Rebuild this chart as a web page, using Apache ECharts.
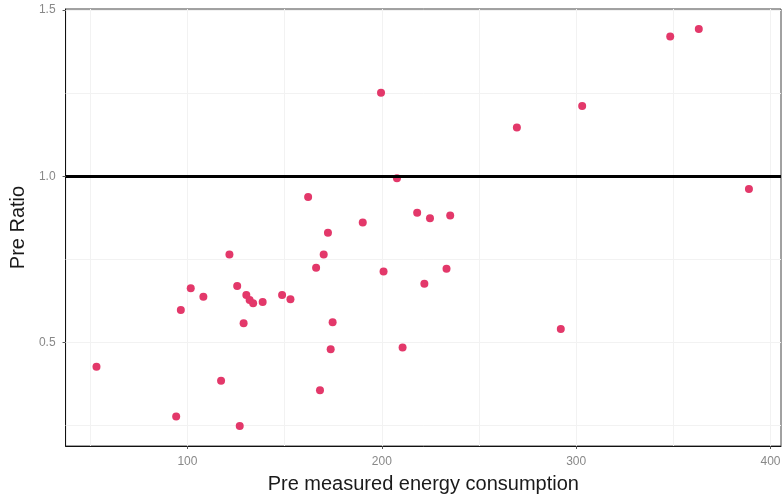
<!DOCTYPE html>
<html>
<head>
<meta charset="utf-8">
<script src="https://cdn.jsdelivr.net/npm/echarts@6/dist/echarts.min.js"></script>
<style>html,body{margin:0;padding:0;background:#fff;}#chart{width:784px;height:499px;}</style>
</head>
<body>
<div id="chart"></div>
<script>
const energy = [53.2, 94.2, 96.6, 101.7, 108.2, 117.3, 121.6, 125.6, 126.9, 128.9, 130.3, 132.0, 133.8, 138.7, 148.7, 153.0, 162.1, 166.2, 168.2, 170.1, 172.3, 173.7, 174.7, 190.2, 199.6, 200.9, 207.8, 210.7, 218.2, 221.9, 224.8, 233.3, 235.2, 269.5, 292.1, 303.1, 348.4, 363.1, 388.9];
const ratio = [0.427, 0.278, 0.598, 0.663, 0.638, 0.385, 0.765, 0.670, 0.249, 0.558, 0.643, 0.628, 0.618, 0.622, 0.643, 0.630, 0.938, 0.725, 0.357, 0.765, 0.830, 0.480, 0.561, 0.861, 1.251, 0.714, 0.994, 0.485, 0.890, 0.677, 0.874, 0.722, 0.882, 1.147, 0.541, 1.211, 1.420, 1.443, 0.962];
const xTicks = [100, 200, 300, 400];
const yTicks = [0.5, 1.0, 1.5];
const xMinorGrid = [50, 150, 250, 350];
const yMinorGrid = [0.25, 0.75, 1.25];
const refLine = 1.0;

const points = energy.map((e, i) => [e, ratio[i]]);
const gridColor = '#f2f2f2';
const gridLines = [];
xTicks.concat(xMinorGrid).forEach(v => gridLines.push({xAxis: v}));
yTicks.concat(yMinorGrid).forEach(v => gridLines.push({yAxis: v}));

const chart = echarts.init(document.getElementById('chart'));
chart.setOption({
  animation: false,
  backgroundColor: '#ffffff',
  grid: {left: 65, right: 3, top: 9, bottom: 52, show: true, borderColor: '#444', borderWidth: 1, backgroundColor: 'transparent'},
  xAxis: {
    type: 'value', min: 37.3, max: 405.4,
    name: 'Pre measured energy consumption', nameLocation: 'middle', nameGap: 28,
    nameTextStyle: {fontSize: 20, color: '#1a1a1a', fontFamily: 'Liberation Sans'},
    axisLine: {show: true, onZero: false, lineStyle: {color: '#111', width: 1}},
    axisTick: {show: true, length: 3, customValues: xTicks, lineStyle: {color: '#555'}},
    axisLabel: {customValues: xTicks, color: '#888', fontSize: 12, margin: 10, fontFamily: 'Liberation Sans'},
    splitLine: {show: false}
  },
  yAxis: {
    type: 'value', min: 0.189, max: 1.503,
    name: 'Pre Ratio', nameLocation: 'middle', nameGap: 35, nameRotate: 90,
    nameTextStyle: {fontSize: 20, color: '#1a1a1a', fontFamily: 'Liberation Sans'},
    axisLine: {show: true, onZero: false, lineStyle: {color: '#111', width: 1}},
    axisTick: {show: true, length: 3, customValues: yTicks, lineStyle: {color: '#555'}},
    axisLabel: {customValues: yTicks, color: '#888', fontSize: 12, margin: 10, fontFamily: 'Liberation Sans',
      formatter: v => v.toFixed(1)},
    splitLine: {show: false}
  },
  series: [
    {
      type: 'scatter', data: [], silent: true,
      markLine: {silent: true, symbol: 'none', label: {show: false},
        lineStyle: {color: gridColor, width: 1, type: 'solid'}, data: gridLines, z: 1}
    },
    {
      type: 'scatter', data: points, symbol: 'circle', symbolSize: 8,
      itemStyle: {color: '#e3386a', opacity: 1}, z: 3
    },
    {
      type: 'scatter', data: [], silent: true, z: 4,
      markLine: {silent: true, symbol: 'none', label: {show: false},
        lineStyle: {color: '#000', width: 3, type: 'solid'}, data: [{yAxis: refLine}]}
    }
  ]
});
</script>
</body>
</html>
